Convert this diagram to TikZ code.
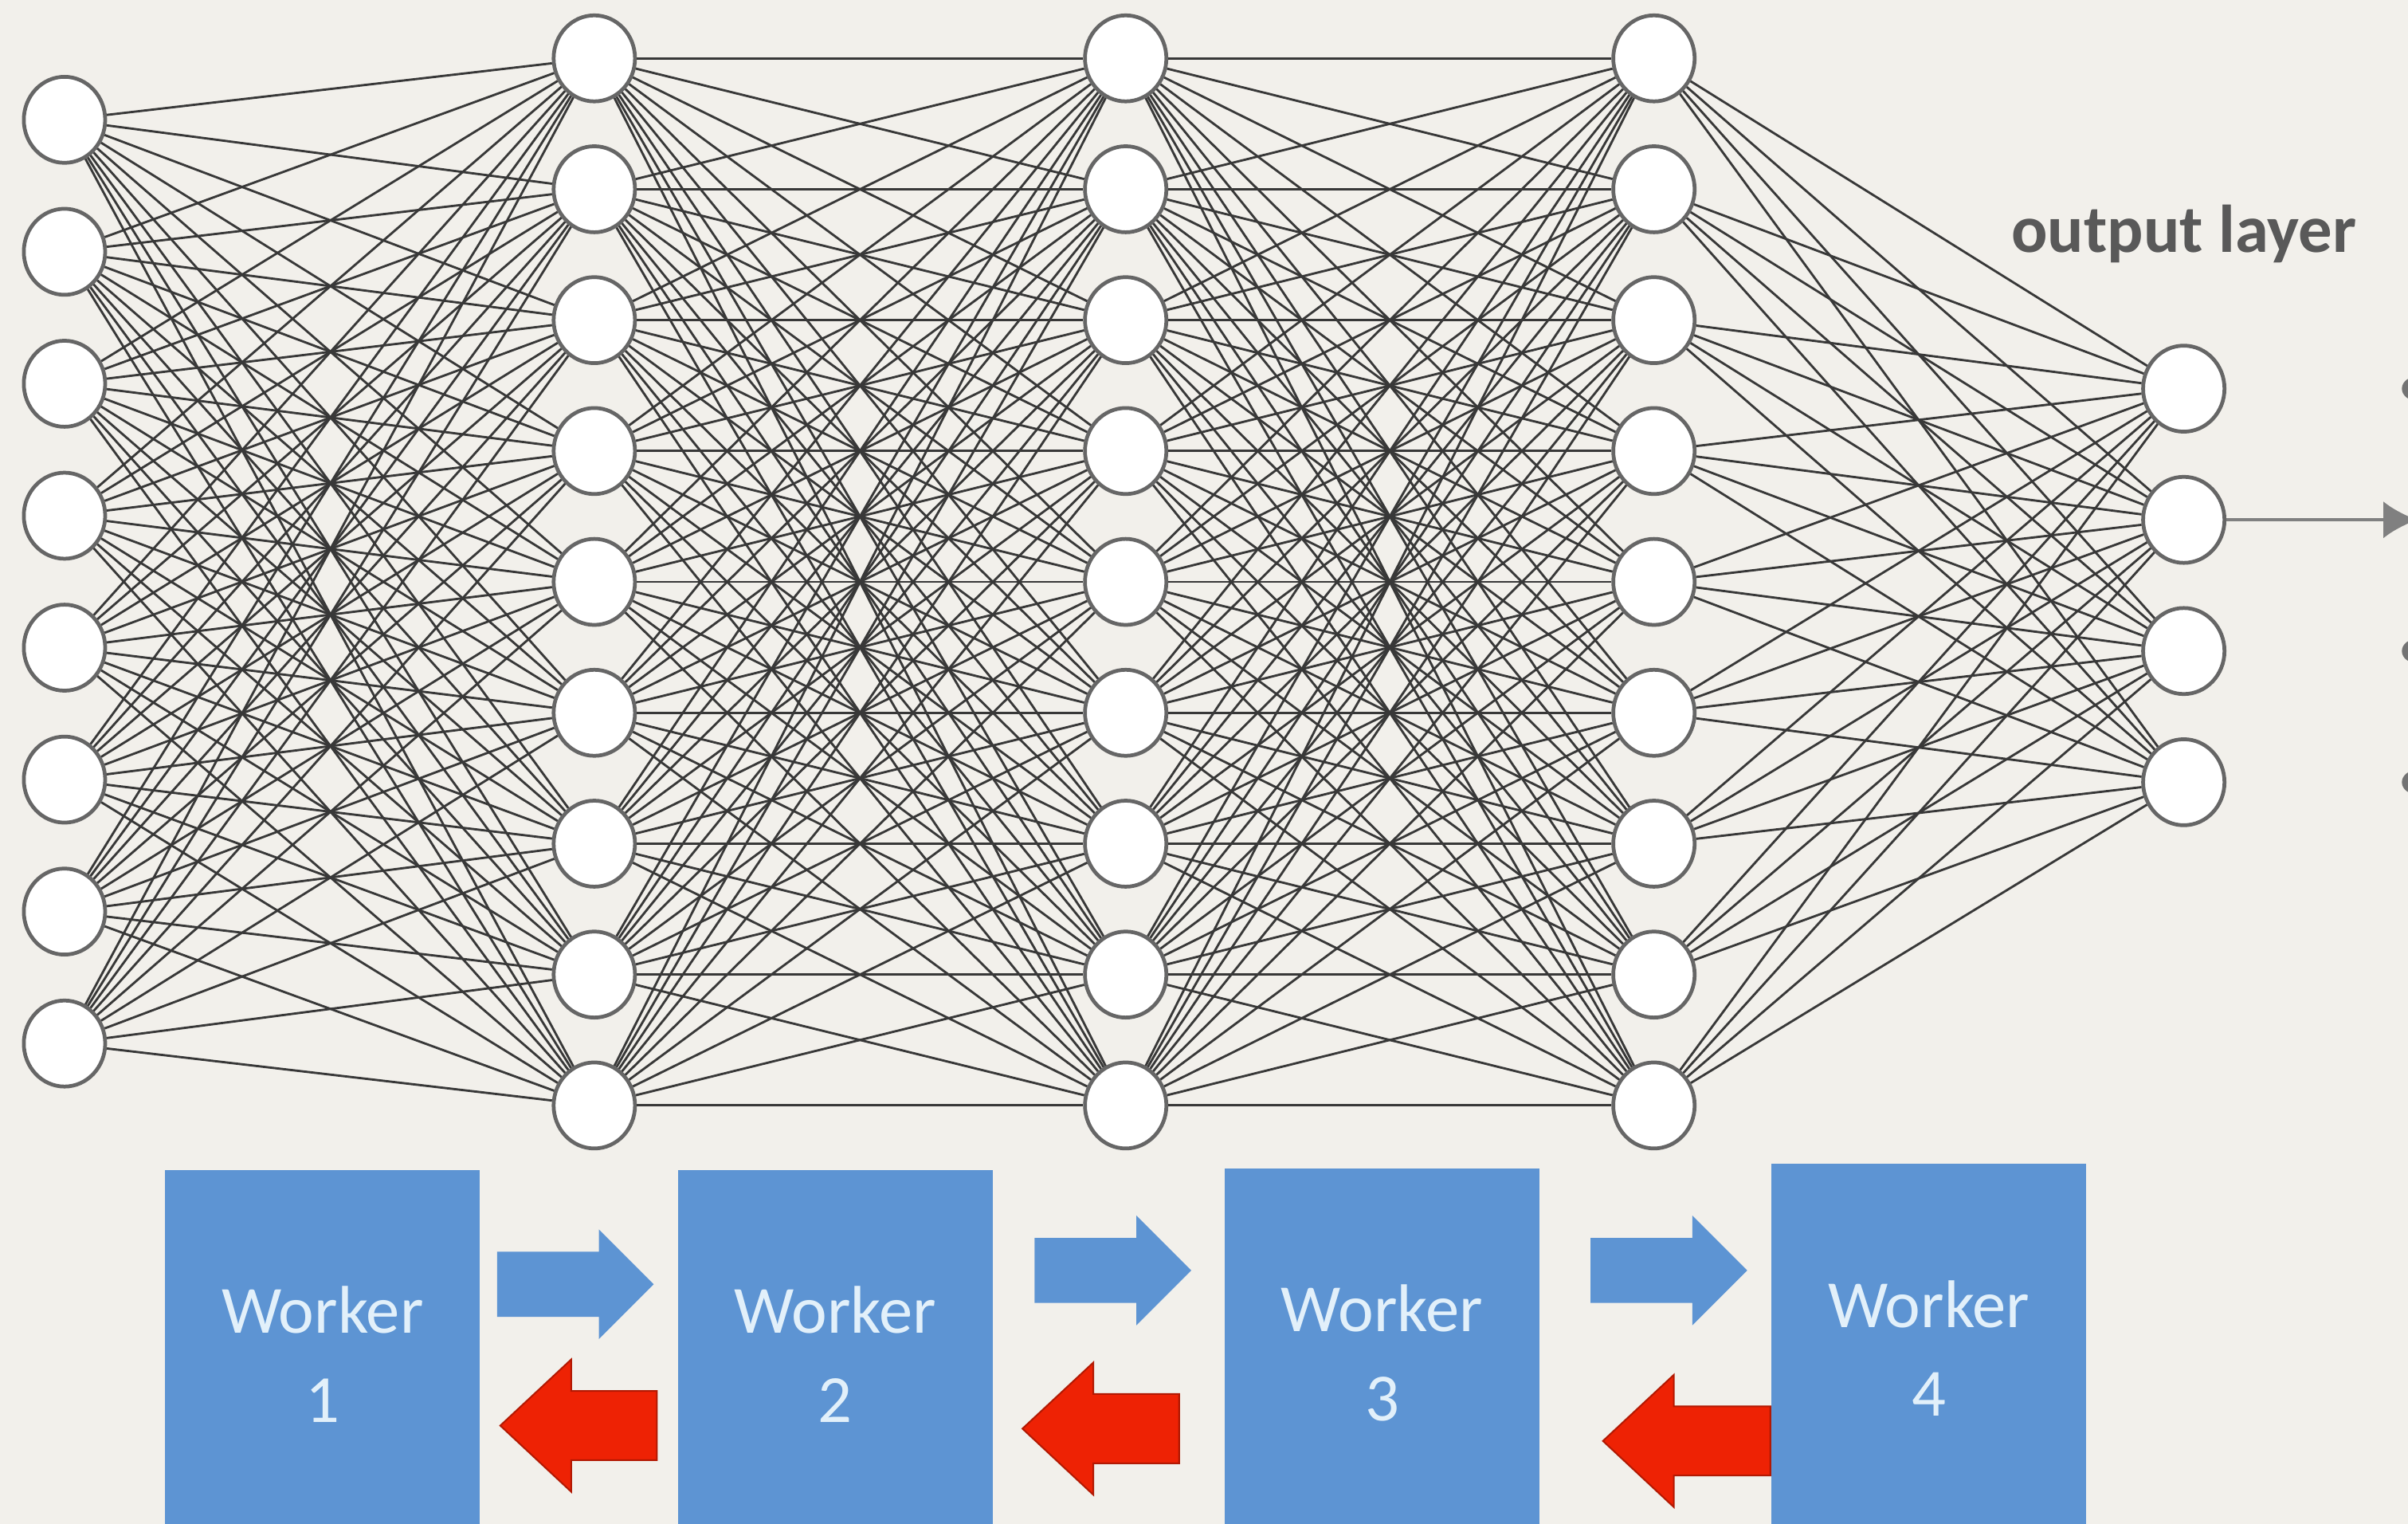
\documentclass[tikz,border=0pt]{standalone}
\usepackage{fontspec}
\setsansfont{Carlito}
\usetikzlibrary{positioning,shapes.geometric,shapes.arrows,arrows.meta}
\definecolor{paper}{RGB}{242,240,235}
\definecolor{workerblue}{RGB}{93,148,211}
\definecolor{backred}{RGB}{238,34,4}
\definecolor{workertext}{RGB}{226,240,250}

\begin{document}
\begin{tikzpicture}[x=0.1mm, y=-0.1mm,
    neuron/.style={ellipse, draw=black!60, fill=white, line width=0.7pt, minimum width=0.53cm, minimum height=0.56cm, inner sep=0pt},
    synapse/.style={black!78, line width=0.42pt},
    worker/.style={fill=workerblue, anchor=north, minimum width=2.05cm, minimum height=2.4cm, inner sep=0pt, align=center, text=workertext, font=\sffamily\fontsize{12.5}{16.5}\selectfont},
    fwdarrow/.style={single arrow, fill=workerblue, anchor=tail, inner xsep=0pt, inner ysep=0.205cm, single arrow head extend=0.145cm, minimum height=1.02cm},
    bwdarrow/.style={single arrow, fill=backred, draw=backred!75!black, line width=0.3pt, anchor=tip, shape border rotate=180, inner xsep=0pt, inner ysep=0.22cm, single arrow head extend=0.205cm, single arrow tip angle=86, minimum height=1.02cm}]
    \useasboundingbox (0,0) rectangle (1568,992);
    \clip (0,0) rectangle (1568,992);
    \fill[paper] (0,0) rectangle (1568,992);

    % layers
    \foreach \i in {1,...,8} \node[neuron] (a\i) at (42,{78+85.9*(\i-1)}) {};
    \foreach \l/\x in {b/387,c/733,d/1077}
        \foreach \i in {1,...,9} \node[neuron] (\l\i) at (\x,{38+85.2*(\i-1)}) {};
    \foreach \i in {1,...,4} \node[neuron] (o\i) at (1422,{253+85.4*(\i-1)}) {};

    \foreach \i in {1,...,8} \foreach \j in {1,...,9} \draw[synapse] (a\i) -- (b\j);
    \foreach \i in {1,...,9} \foreach \j in {1,...,9} {
        \draw[synapse] (b\i) -- (c\j);
        \draw[synapse] (c\i) -- (d\j);
    }
    \foreach \i in {1,...,9} \foreach \j in {1,...,4} \draw[synapse] (d\i) -- (o\j);

    \node[text=black!65, font=\sffamily\bfseries\fontsize{12.5}{14}\selectfont] (outlabel) at (1422,152) {output layer};
    \foreach \i in {1,...,4} \coordinate (e\i) at (1574,{253+85.4*(\i-1)});
    \draw[black!50, line width=0.6pt, -{Latex[length=2.2mm,width=2.4mm]}] (o2) -- (e2);
    \foreach \i in {1,3,4} \fill[black!55] (e\i) ellipse (10 and 8);

    % workers
    \node[worker] (w1) at (210,761) {Worker\\1};
    \node[worker] (w2) at (544,761) {Worker\\2};
    \node[worker] (w3) at (900,760) {Worker\\3};
    \node[worker] (w4) at (1256,757) {Worker\\4};

    \node[fwdarrow] (f1) at (323,836) {};
    \node[fwdarrow] (f2) at (673,827) {};
    \node[fwdarrow] (f3) at (1035,827) {};
    \node[bwdarrow] (r1) at (325,928) {};
    \node[bwdarrow] (r2) at (665,930) {};
    \node[bwdarrow, minimum height=1.09cm] (r3) at (1043,938) {};

\end{tikzpicture}
\end{document}
